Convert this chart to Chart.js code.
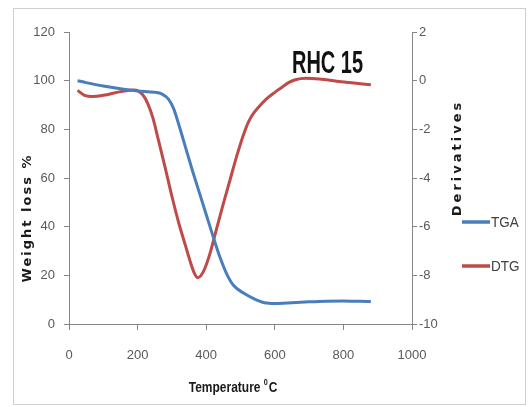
<!DOCTYPE html>
<html><head><meta charset="utf-8">
<script src="https://cdn.jsdelivr.net/npm/chart.js@4.4.1/dist/chart.umd.min.js"></script>
<style>html,body{margin:0;padding:0;background:#fff;} #wrap{position:relative;width:532px;height:407px;} canvas{display:block;}</style>
</head><body><div id="wrap"><canvas id="c" width="532" height="407"></canvas></div>
<script>
// ---- data ----
const tgaTemp   = [25, 50, 100, 150, 200, 250, 270, 290, 305, 320, 340, 360, 380, 400, 420, 440, 460, 480, 510, 540, 570, 600, 650, 700, 750, 800, 850, 880];
const tgaWeight = [100, 99.2, 97.8, 96.7, 95.8, 95.2, 94.6, 92.4, 88.5, 82, 72.5, 63, 54, 45, 36, 27.5, 20.5, 15.8, 12.6, 10.3, 8.7, 8.4, 8.7, 9.1, 9.4, 9.5, 9.3, 9.2];
const dtgTemp   = [25, 45, 70, 100, 150, 190, 215, 230, 245, 260, 280, 300, 320, 340, 355, 365, 375, 385, 395, 410, 430, 450, 470, 490, 508, 524, 540, 555, 575, 600, 620, 640, 660, 690, 730, 780, 830, 880];
const dtgDeriv  = [-0.4, -0.6, -0.65, -0.6, -0.45, -0.38, -0.58, -0.95, -1.55, -2.4, -3.55, -4.75, -5.85, -6.8, -7.5, -7.9, -8.1, -8.0, -7.75, -7.15, -6.1, -5.05, -4.05, -3.05, -2.25, -1.67, -1.3, -1.05, -0.76, -0.48, -0.28, -0.08, 0.04, 0.1, 0.07, -0.02, -0.1, -0.17];
const xTicks     = [0, 200, 400, 600, 800, 1000];
const leftTicks  = [0, 20, 40, 60, 80, 100, 120];
const rightTicks = [-10, -8, -6, -4, -2, 0, 2];
const seriesNames = ['TGA', 'DTG'];
const seriesColors = ['#4a7ebb', '#be4b48'];
const chartLabel = 'RHC 15';
const xTitle = 'Temperature ';
const xTitleSup = '0';
const xTitleEnd = 'C';
const yLeftTitle = 'Weight loss %';
const yRightTitle = 'Derivatives';

const SANS = "'Liberation Sans', Arial, sans-serif";
const AXIS = '#868686';
const TICKC = '#595959';

function fixTicks(list) { return s => { s.ticks = list.map(v => ({ value: v })); }; }

const deco = {
  id: 'deco',
  beforeDraw(chart) {
    const ctx = chart.ctx;
    ctx.save();
    ctx.strokeStyle = '#cfcfcf';
    ctx.lineWidth = 1;
    ctx.strokeRect(13.5, 8.5, 512, 396);
    ctx.restore();
  },
  afterDraw(chart) {
    const ctx = chart.ctx;
    ctx.save();
    // axis titles
    ctx.fillStyle = '#1a1a1a';
    ctx.font = "bold 13px 'DejaVu Sans', sans-serif";
    ctx.letterSpacing = '2px';
    ctx.textAlign = 'center';
    ctx.textBaseline = 'middle';
    ctx.save(); ctx.translate(28, 218); ctx.rotate(-Math.PI / 2); ctx.fillText(yLeftTitle, 0, 0); ctx.restore();
    ctx.letterSpacing = '3px';
    ctx.save(); ctx.translate(458, 158); ctx.rotate(-Math.PI / 2); ctx.fillText(yRightTitle, 0, 0); ctx.restore();
    ctx.letterSpacing = '0px';
    // x title (condensed)
    ctx.textAlign = 'left';
    ctx.textBaseline = 'alphabetic';
    const big = "bold 15px " + SANS, small = "bold 9px " + SANS;
    ctx.font = big; const w1 = ctx.measureText(xTitle).width;
    ctx.font = small; const w2 = ctx.measureText(xTitleSup).width;
    ctx.font = big; const w3 = ctx.measureText(xTitleEnd).width;
    const sx = 0.8;
    const total = (w1 + w2 + w3 + 1) * sx;
    ctx.save();
    ctx.translate(233 - total / 2, 392);
    ctx.scale(sx, 1);
    ctx.font = big; ctx.fillText(xTitle, 0, 0);
    ctx.font = small; ctx.fillText(xTitleSup, w1, -7);
    ctx.font = big; ctx.fillText(xTitleEnd, w1 + w2 + 1, 0);
    ctx.restore();
    // annotation
    ctx.font = "bold 31px " + SANS;
    const wa = ctx.measureText(chartLabel).width;
    ctx.save();
    ctx.translate(292, 73);
    ctx.scale(71 / wa, 1);
    ctx.fillStyle = '#111';
    ctx.fillText(chartLabel, 0, 0);
    ctx.restore();
    // legend
    const ys = [222, 266];
    chart.data.datasets.forEach((ds, i) => {
      ctx.strokeStyle = ds.borderColor;
      ctx.lineWidth = 3.5;
      ctx.beginPath(); ctx.moveTo(462, ys[i]); ctx.lineTo(490, ys[i]); ctx.stroke();
      ctx.fillStyle = '#404040';
      ctx.font = "15px " + SANS;
      ctx.textBaseline = 'middle';
      ctx.save();
      ctx.translate(491, ys[i] + 1);
      ctx.scale(0.9, 1);
      ctx.fillText(ds.label, 0, 0);
      ctx.restore();
    });
    ctx.restore();
  }
};

const tickFont = { family: SANS, size: 13 };
new Chart(document.getElementById('c'), {
  type: 'line',
  data: {
    datasets: [
      { label: seriesNames[0], yAxisID: 'y', data: tgaTemp.map((t, i) => ({ x: t, y: tgaWeight[i] })),
        borderColor: seriesColors[0], borderWidth: 3, pointRadius: 0, cubicInterpolationMode: 'monotone', fill: false },
      { label: seriesNames[1], yAxisID: 'y1', data: dtgTemp.map((t, i) => ({ x: t, y: dtgDeriv[i] })),
        borderColor: seriesColors[1], borderWidth: 3, pointRadius: 0, cubicInterpolationMode: 'monotone', fill: false }
    ]
  },
  options: {
    responsive: false, animation: false, devicePixelRatio: 1,
    layout: { padding: { top: 32, left: 0, right: 0, bottom: 0 } },
    plugins: { legend: { display: false }, tooltip: { enabled: false } },
    scales: {
      x: {
        type: 'linear', min: 0, max: 1000,
        afterBuildTicks: fixTicks(xTicks),
        afterFit: s => { s.height = 83; },
        ticks: { color: TICKC, font: tickFont, padding: 18, maxRotation: 0, autoSkip: false, callback: v => String(v) },
        grid: { drawOnChartArea: false, tickLength: 6, color: AXIS },
        border: { color: AXIS, width: 1 }
      },
      y: {
        type: 'linear', position: 'left', min: 0, max: 120,
        afterBuildTicks: fixTicks(leftTicks),
        afterFit: s => { s.width = 69; },
        ticks: { color: TICKC, font: tickFont, padding: 9, callback: v => String(v) },
        grid: { drawOnChartArea: false, tickLength: 5, color: AXIS },
        border: { color: AXIS, width: 1 }
      },
      y1: {
        type: 'linear', position: 'right', min: -10, max: 2,
        afterBuildTicks: fixTicks(rightTicks),
        afterFit: s => { s.width = 120; },
        ticks: { color: TICKC, font: tickFont, padding: 2, callback: v => String(v) },
        grid: { drawOnChartArea: false, tickLength: 5, color: AXIS },
        border: { color: AXIS, width: 1 }
      }
    }
  },
  plugins: [deco]
});
</script>
</body></html>
